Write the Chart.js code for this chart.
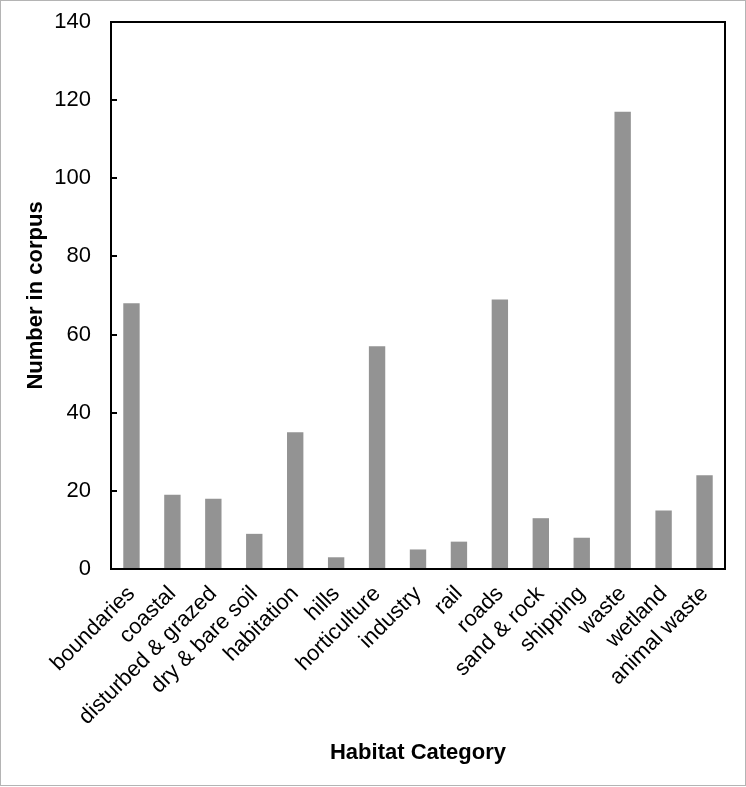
<!DOCTYPE html>
<html>
<head>
<meta charset="utf-8">
<script src="https://cdn.jsdelivr.net/npm/chart.js@4/dist/chart.umd.min.js"></script>
<style>
html,body{margin:0;padding:0;background:#fff;}
canvas{display:block;}
</style>
</head>
<body>
<canvas id="c" width="746" height="787"></canvas>
<script>
const categories = ["boundaries","coastal","disturbed & grazed","dry & bare soil","habitation","hills","horticulture","industry","rail","roads","sand & rock","shipping","waste","wetland","animal waste"];
const counts = [68,19,18,9,35,3,57,5,7,69,13,8,117,15,24];
const yMin = 0, yMax = 140, yStep = 20;
const xTitle = "Habitat Category";
const yTitle = "Number in corpus";

const FONT = "'Liberation Sans', Arial, sans-serif";

const framePlugin = {
  id: 'frame',
  afterDraw(chart) {
    const {ctx, chartArea: a, scales} = chart;
    ctx.save();
    const y = scales.y;
    ctx.strokeStyle = '#000';
    ctx.lineWidth = 2;
    y.ticks.forEach(t => {
      const py = Math.round(y.getPixelForValue(t.value));
      ctx.beginPath();
      ctx.moveTo(a.left, py);
      ctx.lineTo(a.left + 6, py);
      ctx.stroke();
    });
    ctx.strokeRect(a.left, a.top, a.right - a.left, a.bottom - a.top);
    ctx.strokeStyle = '#b4b4b4';
    ctx.lineWidth = 1;
    ctx.strokeRect(0.5, 0.5, 745, 785);
    ctx.restore();
  }
};

new Chart(document.getElementById('c'), {
  type: 'bar',
  data: {
    labels: categories,
    datasets: [{
      data: counts,
      backgroundColor: '#939393',
      borderWidth: 0,
      categoryPercentage: 1.0,
      barPercentage: 0.4
    }]
  },
  options: {
    responsive: false,
    animation: false,
    devicePixelRatio: 1,
    layout: { padding: { top: 22, right: 21, bottom: 0, left: 0 } },
    plugins: { legend: { display: false }, tooltip: { enabled: false } },
    scales: {
      x: {
        grid: { display: false },
        border: { display: false },
        ticks: {
          color: '#000',
          font: { family: FONT, size: 22 },
          minRotation: 45,
          maxRotation: 45,
          autoSkip: false,
          padding: 4
        },
        title: {
          display: true,
          text: xTitle,
          color: '#000',
          font: { family: FONT, size: 22, weight: 'bold' },
          padding: { top: 0, bottom: 21 }
        },
        afterFit(s) { s.height = 787 - 569; s.paddingTop = 0; }
      },
      y: {
        min: yMin,
        max: yMax,
        grid: { display: false },
        border: { display: false },
        ticks: {
          stepSize: yStep,
          color: '#000',
          font: { family: FONT, size: 22 },
          padding: 12
        },
        title: {
          display: true,
          text: yTitle,
          color: '#000',
          font: { family: FONT, size: 22, weight: 'bold' },
          padding: { top: 23, bottom: 0 }
        },
        afterFit(s) { s.width = 111; s.paddingTop = 0; s.paddingBottom = 0; }
      }
    }
  },
  plugins: [framePlugin]
});
</script>
</body>
</html>
